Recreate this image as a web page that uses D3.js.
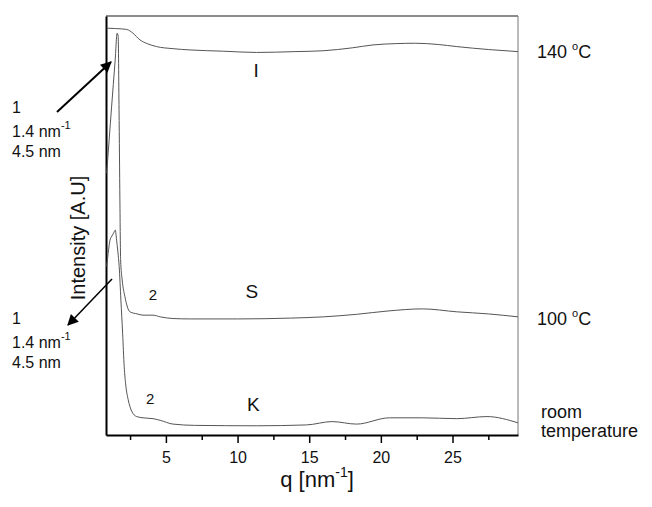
<!DOCTYPE html>
<html>
<head>
<meta charset="utf-8">
<script src="https://cdn.jsdelivr.net/npm/d3@7"></script>
<style>
  body { margin: 0; background: white; }
  text { font-family: "Liberation Sans", Arial, sans-serif; fill: #111; }
</style>
</head>
<body>
<script>

// q values [nm^-1] and intensities [A.U]
var q140 = [0.87, 1.5, 2.26, 2.7, 3.19, 3.7, 4.35, 5.5, 6.68, 9, 11.33, 14, 15.96, 18, 19.45, 21, 22.4, 24, 25.3, 27.5, 29.57];
var int140 = [97.1, 97.0, 96.8, 95.9, 94.3, 93.4, 92.7, 92.2, 91.9, 91.6, 91.3, 91.5, 91.7, 92.4, 93.1, 93.4, 93.5, 93.2, 92.7, 92.0, 91.5];

var q100 = [0.87, 1.21, 1.45, 1.6, 1.67, 1.73, 1.79, 1.84, 1.95, 2.14, 2.49, 3.0, 3.4, 4.1, 4.6, 5.5, 6.7, 10, 13.7, 16, 18.3, 20.5, 22.9, 25.3, 27.5, 29.57];
var int100 = [62.5, 78.3, 89.0, 95.9, 95.1, 77.6, 56.1, 41.8, 37.0, 33.0, 29.4, 28.9, 28.6, 28.6, 28.2, 27.8, 27.7, 27.7, 27.9, 28.2, 28.8, 29.6, 30.1, 29.4, 28.9, 28.2];

var qRoom = [0.87, 1.0, 1.1, 1.2, 1.35, 1.47, 1.56, 1.65, 1.74, 1.86, 1.98, 2.09, 2.2, 2.37, 2.61, 2.96, 3.4, 4.1, 4.6, 5.5, 7, 11.3, 14.8, 16.6, 18.3, 20.6, 22.9, 25.3, 27.4, 29.57];
var intRoom = [40.2, 44.2, 46.5, 47.3, 48.2, 48.9, 46.5, 43.7, 40.2, 32.2, 24.3, 16.3, 11.9, 8.4, 5.7, 4.4, 4.1, 3.9, 3.5, 2.6, 2.3, 2.2, 2.4, 3.2, 2.6, 4.1, 4.1, 3.9, 4.4, 2.9];

var majorTicks = [5, 10, 15, 20, 25];
var minorTicks = [2.5, 7.5, 12.5, 17.5, 22.5, 27.5];

var margin = {top: 16, right: 134, bottom: 72, left: 106};
var width = 652 - margin.left - margin.right;
var height = 507 - margin.top - margin.bottom;

var xScale = d3.scaleLinear().domain([0.82, 29.57]).range([0, width]);
var yScale = d3.scaleLinear().domain([0, 100]).range([height, 0]);

var root = d3.select("body").append("svg")
    .attr("width", 652)
    .attr("height", 507);

var svg = root.append("g")
    .attr("transform", "translate(" + margin.left + "," + margin.top + ")");

// arrow head for the peak annotations
root.append("defs").append("marker")
    .attr("id", "head")
    .attr("markerUnits", "userSpaceOnUse")
    .attr("viewBox", "0 0 10 10")
    .attr("refX", 9).attr("refY", 5)
    .attr("markerWidth", 13).attr("markerHeight", 11)
    .attr("orient", "auto")
    .append("path")
    .attr("d", "M0,0 L10,5 L0,10 Z")
    .attr("fill", "#000");

function drawAxes(){

    // top and right frame, thin gray
    svg.append("line")
        .attr("x1", 0).attr("x2", width).attr("y1", 0).attr("y2", 0)
        .attr("stroke", "#666").attr("stroke-width", 1.5);
    svg.append("line")
        .attr("x1", width).attr("x2", width).attr("y1", 0).attr("y2", height)
        .attr("stroke", "#777").attr("stroke-width", 1);

    var minor = svg.append("g")
        .attr("transform", "translate(0," + height + ")")
        .call(d3.axisBottom(xScale).tickValues(minorTicks).tickSize(5).tickFormat(""));
    minor.select(".domain").remove();
    minor.selectAll("line").attr("stroke", "#000").attr("stroke-width", 1.5);

    var major = svg.append("g")
        .attr("transform", "translate(0," + height + ")")
        .call(d3.axisBottom(xScale).tickValues(majorTicks).tickSize(8).tickSizeOuter(0).tickPadding(9));
    major.select(".domain").attr("stroke", "#000").attr("stroke-width", 2);
    major.selectAll("line").attr("stroke", "#000").attr("stroke-width", 1.5);
    major.selectAll("text")
        .attr("font-size", "16px")
        .attr("font-family", "'Liberation Sans', Arial, sans-serif")
        .attr("fill", "#111");

    var left = svg.append("g")
        .call(d3.axisLeft(yScale).tickValues([]).tickSizeOuter(0));
    left.select(".domain").attr("stroke", "#000").attr("stroke-width", 2);

    // axis titles
    var xt = root.append("text")
        .attr("x", 317).attr("y", 487)
        .attr("text-anchor", "middle")
        .attr("font-size", "22px")
        .text("q [nm");
    xt.append("tspan").attr("font-size", "14px").attr("dy", -10).text("-1");
    xt.append("tspan").attr("dy", 10).text("]");

    root.append("text")
        .attr("transform", "translate(85,238) rotate(-90)")
        .attr("text-anchor", "middle")
        .attr("font-size", "20px")
        .text("Intensity [A.U]");
}

function drawCurve(qs, vals){
    var pts = qs.map(function(d, i){ return [d, vals[i]]; });
    var line = d3.line()
        .x(function(d){ return xScale(d[0]); })
        .y(function(d){ return yScale(d[1]); })
        .curve(d3.curveMonotoneX);
    svg.append("path")
        .datum(pts)
        .attr("d", line)
        .attr("fill", "none")
        .attr("stroke", "#555")
        .attr("stroke-width", 1);
}

function drawLabels(){
    // phase letters inside the plot
    var phases = [["I", 11.3, 85.5], ["S", 11.0, 32.7], ["K", 11.1, 5.8]];
    phases.forEach(function(p){
        svg.append("text")
            .attr("x", xScale(p[1])).attr("y", yScale(p[2]))
            .attr("text-anchor", "middle")
            .attr("font-size", "19px")
            .text(p[0]);
    });
    var orders = [[4.1, 32.2], [3.9, 7.5]];
    orders.forEach(function(p){
        svg.append("text")
            .attr("x", xScale(p[0])).attr("y", yScale(p[1]))
            .attr("text-anchor", "middle")
            .attr("font-size", "15px")
            .text("2");
    });

    // temperatures on the right
    [["140 ", 58], ["100 ", 325]].forEach(function(t){
        var tx = root.append("text")
            .attr("x", 537).attr("y", t[1])
            .attr("font-size", "18px")
            .text(t[0]);
        tx.append("tspan").attr("font-size", "11px").attr("dy", -8).text("o");
        tx.append("tspan").attr("dy", 8).text("C");
    });
    root.append("text").attr("x", 541).attr("y", 418).attr("font-size", "18px").text("room");
    root.append("text").attr("x", 541).attr("y", 437).attr("font-size", "18px").text("temperature");

    // peak 1 annotations on the left
    [113, 324].forEach(function(y0){
        root.append("text").attr("x", 12).attr("y", y0).attr("font-size", "16px").text("1");
        var t = root.append("text").attr("x", 12).attr("y", y0 + 24).attr("font-size", "16px").text("1.4 nm");
        t.append("tspan").attr("font-size", "11px").attr("dy", -8).text("-1");
        root.append("text").attr("x", 12).attr("y", y0 + 44).attr("font-size", "16px").text("4.5 nm");
    });

    root.append("line")
        .attr("x1", 57).attr("y1", 112).attr("x2", 111).attr("y2", 62)
        .attr("stroke", "#000").attr("stroke-width", 2)
        .attr("marker-end", "url(#head)");
    root.append("line")
        .attr("x1", 112).attr("y1", 279).attr("x2", 68).attr("y2", 325)
        .attr("stroke", "#000").attr("stroke-width", 1.5)
        .attr("marker-end", "url(#head)");
}

drawAxes();
drawCurve(q140, int140);
drawCurve(q100, int100);
drawCurve(qRoom, intRoom);
drawLabels();

</script>
</body>
</html>
